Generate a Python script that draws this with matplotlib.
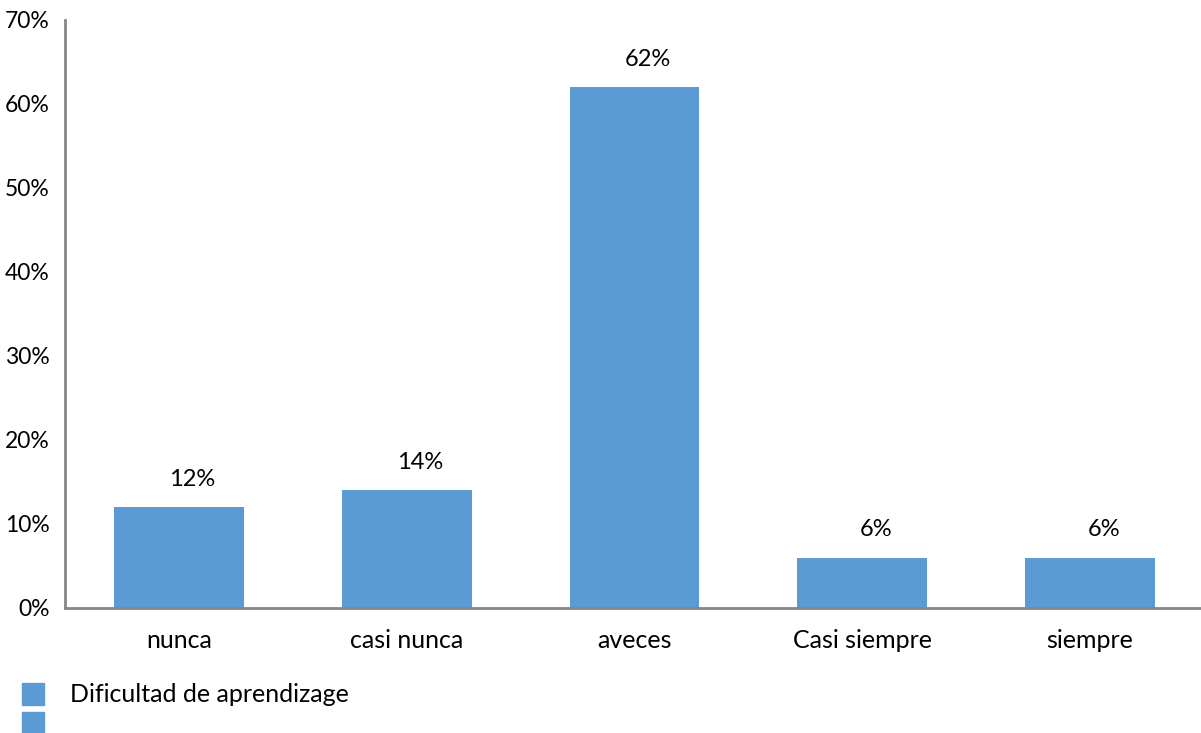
import matplotlib
matplotlib.use("Agg")
import matplotlib.pyplot as plt
from matplotlib.patches import Rectangle
from matplotlib.ticker import FuncFormatter

categories = ["nunca", "casi nunca", "aveces", "Casi siempre", "siempre"]
values = [12, 14, 62, 6, 6]
value_labels = ["12%", "14%", "62%", "6%", "6%"]
series_name = "Dificultad de aprendizage"
yticks = [0, 10, 20, 30, 40, 50, 60, 70]

BAR = "#5B9BD5"
GRAY = "#868686"
plt.rcParams['font.family'] = ['Lato', 'DejaVu Sans']

fig = plt.figure(figsize=(12.01, 7.33), dpi=100)
ax = fig.add_axes([65/1201, 1-608/733, 1139/1201, (608-20)/733])
x = list(range(len(categories)))
ax.bar(x, values, width=0.57, color=BAR)
ax.set_xlim(-0.5, len(categories)-0.5)
ax.set_ylim(0, 70)
ax.set_yticks(yticks)
ax.yaxis.set_major_formatter(FuncFormatter(lambda v, p: f"{int(v)}%"))
ax.set_xticks(x)
ax.set_xticklabels(categories)
ax.tick_params(axis='both', length=0, colors='black')
ax.tick_params(axis='x', pad=15, labelsize=18)
ax.tick_params(axis='y', pad=11, labelsize=16.5)
for s in ['top', 'right']:
    ax.spines[s].set_visible(False)
for s in ['left', 'bottom']:
    ax.spines[s].set_color(GRAY)
    ax.spines[s].set_linewidth(2)
for xi, v, lab in zip(x, values, value_labels):
    ax.annotate(lab, (xi + 0.06, v), xytext=(0, 20), textcoords='offset points',
                ha='center', va='center', fontsize=17)

W, H = 1201, 733
for y0 in [683, 712]:
    fig.patches.append(Rectangle((22/W, 1-(y0+22)/H), 22/W, 22/H,
                                 transform=fig.transFigure, color=BAR))
fig.text(70/W, 1-695/H, series_name, fontsize=18, va='center', ha='left')

fig.savefig("out.png", dpi=100)
